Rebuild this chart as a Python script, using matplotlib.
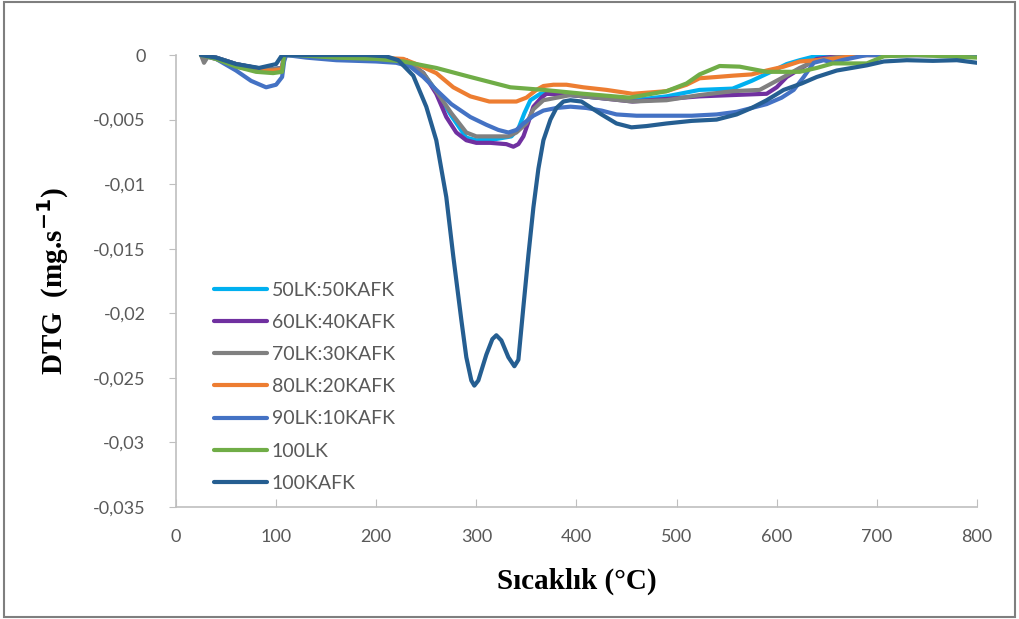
import matplotlib
matplotlib.use("Agg")
import matplotlib.pyplot as plt
from matplotlib.ticker import MultipleLocator, FuncFormatter
from matplotlib.patches import Rectangle

# temperatures (C) and DTG values (mg/s)
t_50 = [25, 40, 60, 80, 97, 106, 108, 120, 160, 200, 230, 247, 260, 275, 290, 300, 320, 335, 342, 348, 354, 364,
        380, 394, 420, 456, 490, 523, 556, 575, 597, 610, 623, 643, 800]
dtg_50 = [0, -0.0002, -0.0007, -0.001, -0.0011, -0.001, 0, 0, -0.0001, -0.0002, -0.0004, -0.0014, -0.0028, -0.0047,
          -0.0064, -0.0066, -0.0065, -0.0063, -0.0057, -0.0045, -0.0035, -0.003, -0.003, -0.0031, -0.0033, -0.0035,
          -0.0032, -0.0027, -0.0026, -0.002, -0.0012, -0.0007, -0.0004, 0, 0]

t_60 = [25, 40, 60, 80, 97, 106, 108, 120, 160, 200, 230, 247, 260, 270, 280, 290, 300, 314, 330, 337, 342, 347,
        352, 357, 365, 370, 394, 420, 456, 490, 523, 556, 590, 600, 610, 625, 640, 670, 800]
dtg_60 = [0, -0.0002, -0.0007, -0.001, -0.0011, -0.001, 0, 0, -0.0001, -0.0002, -0.0004, -0.0014, -0.003, -0.0048,
          -0.006, -0.0066, -0.0068, -0.0068, -0.0069, -0.0071, -0.0069, -0.0063, -0.0052, -0.004, -0.0033, -0.003,
          -0.0031, -0.0033, -0.0036, -0.0034, -0.0032, -0.0031, -0.003, -0.0025, -0.0017, -0.001, -0.0003, 0, 0]

t_70 = [25, 28, 32, 40, 60, 80, 97, 106, 108, 120, 160, 200, 230, 247, 260, 275, 290, 300, 320, 332, 340, 350,
        357, 367, 394, 420, 456, 490, 523, 556, 583, 595, 607, 623, 640, 673, 800]
dtg_70 = [0, -0.0006, -0.0001, -0.0002, -0.0007, -0.001, -0.0011, -0.001, 0, 0, -0.0001, -0.0002, -0.0004, -0.0014,
          -0.0028, -0.0045, -0.006, -0.0063, -0.0063, -0.0063, -0.006, -0.0053, -0.0042, -0.0035, -0.0031, -0.0033,
          -0.0036, -0.0035, -0.0031, -0.0028, -0.0027, -0.0022, -0.0017, -0.001, -0.0004, 0, 0]

t_80 = [25, 40, 60, 80, 97, 106, 108, 120, 160, 200, 227, 240, 260, 277, 294, 313, 340, 350, 360, 367, 377, 390,
        407, 430, 456, 490, 510, 523, 540, 556, 575, 590, 607, 623, 656, 683, 800]
dtg_80 = [0, -0.0003, -0.0009, -0.0012, -0.0012, -0.0011, 0, 0, -0.0001, -0.0002, -0.0003, -0.0007, -0.0014,
          -0.0025, -0.0032, -0.0036, -0.0036, -0.0033, -0.0027, -0.0024, -0.0023, -0.0023, -0.0025, -0.0027, -0.003,
          -0.0028, -0.0023, -0.0018, -0.0017, -0.0016, -0.0015, -0.0012, -0.0009, -0.0005, -0.0003, 0, 0]

t_90 = [25, 40, 60, 75, 90, 100, 106, 108, 110, 130, 160, 200, 220, 234, 247, 260, 275, 294, 310, 322, 332, 340,
        347, 357, 367, 380, 394, 410, 425, 440, 460, 490, 515, 540, 560, 575, 590, 605, 617, 627, 637, 647, 656,
        665, 690, 720, 760, 800]
dtg_90 = [0, -0.0003, -0.0012, -0.002, -0.0025, -0.0023, -0.0017, -0.0005, 0, -0.0002, -0.0004, -0.0005, -0.0006,
          -0.0009, -0.0017, -0.0027, -0.0038, -0.0048, -0.0054, -0.0058, -0.006, -0.0058, -0.0053, -0.0047, -0.0043,
          -0.0041, -0.004, -0.0041, -0.0043, -0.0046, -0.0047, -0.0047, -0.0047, -0.0046, -0.0044, -0.0041, -0.0038,
          -0.0033, -0.0027, -0.0017, -0.0006, -0.0004, -0.0006, -0.0004, 0, 0, 0, -0.0001]

t_lk = [25, 40, 60, 80, 97, 106, 108, 120, 160, 200, 227, 260, 294, 334, 367, 407, 453, 490, 510, 523, 543, 563,
        590, 623, 640, 656, 690, 707, 740, 800]
dtg_lk = [0, -0.0003, -0.0009, -0.0013, -0.0014, -0.0013, 0, 0, -0.0002, -0.0003, -0.0005, -0.001, -0.0017,
          -0.0025, -0.0027, -0.003, -0.0033, -0.0028, -0.0022, -0.0015, -0.00085, -0.0009, -0.0013, -0.0013, -0.001,
          -0.00065, -0.00065, -0.0001, 0, -0.0002]

t_kafk = [25, 40, 60, 83, 100, 106, 120, 150, 190, 210, 222, 237, 250, 260, 270, 277, 285, 290, 295, 298, 302, 310,
          316, 320, 325, 332, 338, 342, 347, 352, 357, 362, 367, 374, 380, 387, 394, 405, 415, 425, 440, 455, 470,
          490, 515, 540, 560, 575, 590, 607, 625, 640, 660, 675, 690, 707, 730, 756, 780, 800]
dtg_kafk = [0, -0.0002, -0.0007, -0.001, -0.0007, 0, 0, 0, 0, -0.0001, -0.0004, -0.0016, -0.004, -0.0066, -0.011,
            -0.0156, -0.0205, -0.0234, -0.0252, -0.0256, -0.0252, -0.0232, -0.022, -0.0217, -0.0221, -0.0234,
            -0.0241, -0.0236, -0.0195, -0.0155, -0.0118, -0.0088, -0.0066, -0.005, -0.0041, -0.0036, -0.0035,
            -0.0036, -0.0041, -0.0046, -0.0053, -0.0056, -0.0055, -0.0053, -0.0051, -0.005, -0.0046, -0.0041,
            -0.0035, -0.0027, -0.0022, -0.0017, -0.0012, -0.001, -0.0008, -0.0005, -0.0004, -0.00045, -0.0004,
            -0.0006]

labels = ['50LK:50KAFK', '60LK:40KAFK', '70LK:30KAFK', '80LK:20KAFK', '90LK:10KAFK', '100LK', '100KAFK']
colors = ['#00B0F0', '#7030A0', '#808080', '#ED7D31', '#4472C4', '#70AD47', '#255E91']
temps = [t_50, t_60, t_70, t_80, t_90, t_lk, t_kafk]
values = [dtg_50, dtg_60, dtg_70, dtg_80, dtg_90, dtg_lk, dtg_kafk]

plt.rcParams['font.family'] = ['Lato', 'DejaVu Sans']

fig = plt.figure(figsize=(10.19, 6.19), dpi=100)
ax = fig.add_axes([0.1727, 0.1809, 0.786, 0.7302])

for t, v, lab, c in zip(temps, values, labels, colors):
    ax.plot(t, v, color=c, lw=3, label=lab, solid_capstyle='round', solid_joinstyle='round')

ax.set_xlim(0, 800)
ax.set_ylim(-0.035, 0)
ax.xaxis.set_major_locator(MultipleLocator(100))
ax.yaxis.set_major_locator(MultipleLocator(0.005))
ax.yaxis.set_major_formatter(FuncFormatter(lambda v, p: f"{v:g}".replace('.', ',') if abs(v) > 1e-12 else '0'))

for s in ['top', 'right']:
    ax.spines[s].set_visible(False)
for s in ['left', 'bottom']:
    ax.spines[s].set_color('#BFBFBF')
    ax.spines[s].set_linewidth(1.2)
ax.tick_params(axis='y', direction='out', length=5, color='#BFBFBF', labelsize=13, labelcolor='#595959', pad=17)
ax.tick_params(axis='x', direction='in', length=6, color='#BFBFBF', labelsize=13, labelcolor='#595959', pad=16)

ax.set_xlabel('Sıcaklık (°C)', family='Liberation Serif', fontweight='bold', fontsize=21, labelpad=16)
ax.set_ylabel('DTG  (mg.s$^{\\mathbf{-1}}$)', family='Liberation Serif', fontweight='bold', fontsize=21)
ax.yaxis.set_label_coords(-0.131, 0.5)

leg = ax.legend(loc='lower left', bbox_to_anchor=(0.026, -0.005), frameon=False, fontsize=14,
                handlelength=2.7, handletextpad=0.26, labelspacing=0.78, labelcolor='#595959')

fig.patches.append(Rectangle((0.004, 0.004), 0.992, 0.992, transform=fig.transFigure,
                             fill=False, edgecolor='#7F7F7F', lw=1.5))

fig.savefig('out.png', dpi=100)
